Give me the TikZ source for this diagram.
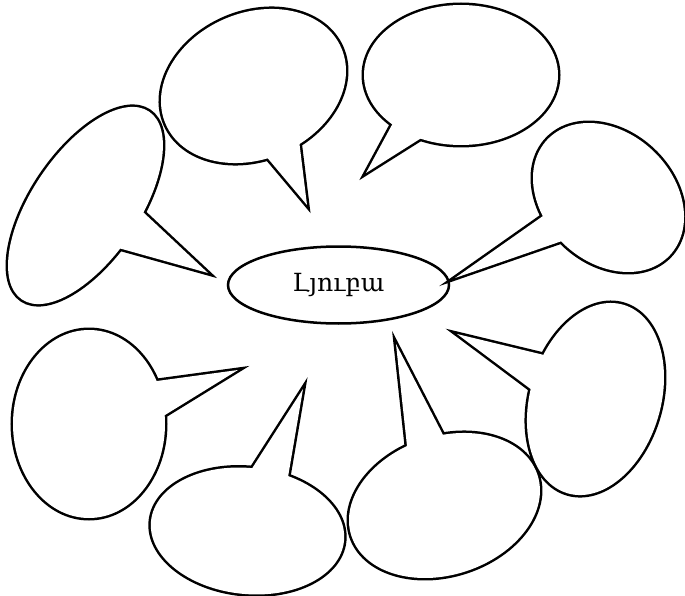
\documentclass[tikz,border=0pt]{standalone}
\usepackage{fontspec}
\newfontfamily\armfont{DejaVu Serif}
\usetikzlibrary{calc,shapes.geometric}
\tikzset{
  x=1pt, y=-1pt,
  bubbleedge/.style={draw=black, line width=5pt, line join=miter},
  bubblefill/.style={fill=white},
  topic/.style={draw=black, line width=2.5pt, ellipse, minimum width=221pt, minimum height=77pt, inner sep=0pt, font=\armfont\fontsize{25}{30}\selectfont}
}
% #1 name, #2 centre, #3 rotation, #4 x radius, #5 y radius, #6 tip, #7 and #8 points where the tail meets the oval
\newcommand{\speechbubble}[8]{%
  \coordinate (#1c) at (#2);
  \coordinate (#1t) at (#6);
  \coordinate (#1p) at ($(#6)!1.3!(#7)$);
  \coordinate (#1q) at ($(#6)!1.3!(#8)$);
  \draw[bubbleedge, rotate around={#3:(#1c)}] (#1c) ellipse [x radius=#4, y radius=#5];
  \draw[bubbleedge] (#1t) -- (#1p) -- (#1q) -- cycle;
  \fill[bubblefill, rotate around={#3:(#1c)}] (#1c) ellipse [x radius=#4, y radius=#5];
  \fill[bubblefill] (#1t) -- (#1p) -- (#1q) -- cycle;
}
\begin{document}
\begin{tikzpicture}
\useasboundingbox[fill=white] (0,0) rectangle (685,596);
\speechbubble{ba}{253.5,86}{23.4}{95.7}{73}{307,205}{265,155}{299,140}
\speechbubble{bb}{461,75}{0}{97}{70}{366,173}{393,123}{423,137}
\speechbubble{bc}{608.5,197.5}{-43.5}{84.2}{64.5}{455,278}{543,216}{562,241}
\speechbubble{bd}{85.5,205.5}{55.9}{113.4}{53.4}{208,273}{144,213}{122,249}
\speechbubble{be}{89,424}{0}{76}{94}{238,370}{157,381}{165,415}
\speechbubble{bf}{247.5,531}{-6}{97}{63}{303,389}{253,467}{288,477}
\speechbubble{bg}{444.5,505.5}{18.2}{97.9}{69.2}{396,344}{407,446}{443,435}
\speechbubble{bh}{595.5,399}{73.4}{98.3}{65.2}{457,334}{544,355}{532,390}
\node[topic] (topic) at (338.5,285) {Լյուբա};
\end{tikzpicture}
\end{document}
